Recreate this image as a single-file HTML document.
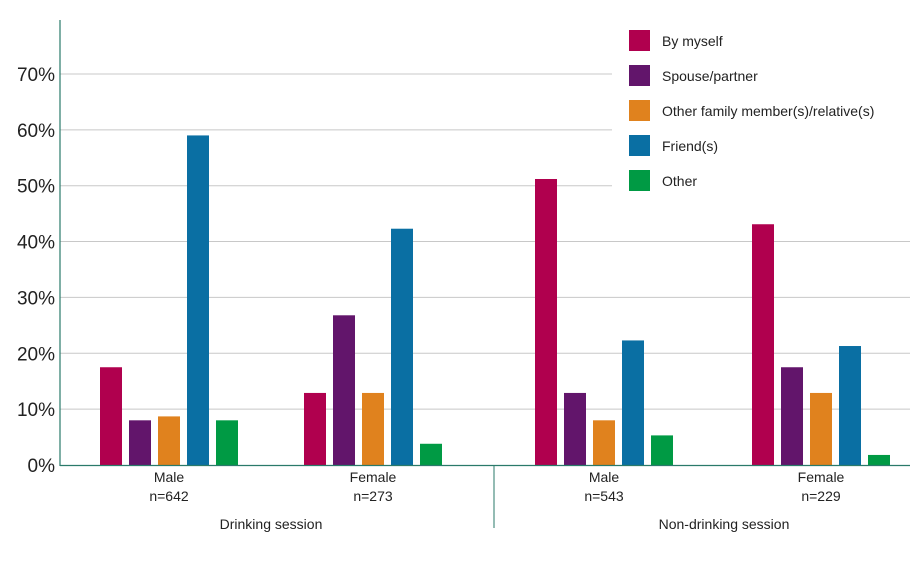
<!DOCTYPE html>
<html><head><meta charset="utf-8"><style>
body{margin:0;background:#fff;font-family:"Liberation Sans",sans-serif;}
svg text{font-family:"Liberation Sans",sans-serif;fill:#222;}
</style></head><body>
<svg id="chart" width="918" height="562"></svg>
<script>
const categories=["Male n=642","Female n=273","Male n=543","Female n=229"];
const seriesNames=["By myself","Spouse/partner","Other family member(s)/relative(s)","Friend(s)","Other"];
const byMyself=[17.5,12.9,51.2,43.1];
const spouse=[8,26.8,12.9,17.5];
const family=[8.7,12.9,8,12.9];
const friends=[59,42.3,22.3,21.3];
const other=[8,3.8,5.3,1.8];
const tickLabels=["0%","10%","20%","30%","40%","50%","60%","70%"];
const tickValues=[0,10,20,30,40,50,60,70];
const colors=["#b0004e","#62156b","#e0821e","#0a6fa3","#009a44"];
const series=[byMyself,spouse,family,friends,other];
const NS="http://www.w3.org/2000/svg";
const svg=document.getElementById('chart');
function y(v){return 465-v*5.586;}
const groupStart=[100,304,535,752];
function x(g,s){return groupStart[g]+s*29;}
function mk(t,a){const e=document.createElementNS(NS,t);for(const k in a)e.setAttribute(k,a[k]);svg.appendChild(e);return e;}
tickValues.forEach((v,i)=>{
 if(v>0){const g=mk('line',{x1:60,x2:910,y1:y(v),y2:y(v),stroke:'#c8c8c8','stroke-width':1});
 
 }
 const t=mk('text',{x:55,y:y(v)+7,'text-anchor':'end','font-size':19});
 t.textContent=tickLabels[i];
 
 
});
// legend background
const lb=mk('rect',{x:612,y:15,width:300,height:180,fill:'#fff'});


series.forEach((arr,s)=>{
 arr.forEach((v,g)=>{
  const r=mk('rect',{x:x(g,s),y:y(v),width:22,height:465-y(v),fill:colors[s]});
  
  
 });
 const sq=mk('rect',{x:629,y:30+s*35,width:21,height:21,fill:colors[s]});
 
 
 const lt=mk('text',{x:662,y:46+s*35,'font-size':14});
 lt.textContent=seriesNames[s];
 
 
});
const ax=mk('line',{x1:60,x2:60,y1:20,y2:466,stroke:'#2a7a6a','stroke-width':1.2});


const bx=mk('line',{x1:60,x2:910,y1:465.5,y2:465.5,stroke:'#2a7a6a','stroke-width':1.2});


const sp=mk('line',{x1:494,x2:494,y1:466,y2:528,stroke:'#2a7a6a','stroke-width':1});


categories.forEach((c,g)=>{
 const cx=groupStart[g]+(4*29+22)/2;
 const parts=c.split(' ');
 parts.forEach((p,i)=>{
  const t=mk('text',{x:cx,y:482+i*19,'text-anchor':'middle','font-size':14});
  t.textContent=p;
  
  
 });
});
[["Drinking session",271],["Non-drinking session",724]].forEach(([s,cx])=>{
 const t=mk('text',{x:cx,y:529,'text-anchor':'middle','font-size':14});
 t.textContent=s;
 
 
});
</script>
</body></html>
